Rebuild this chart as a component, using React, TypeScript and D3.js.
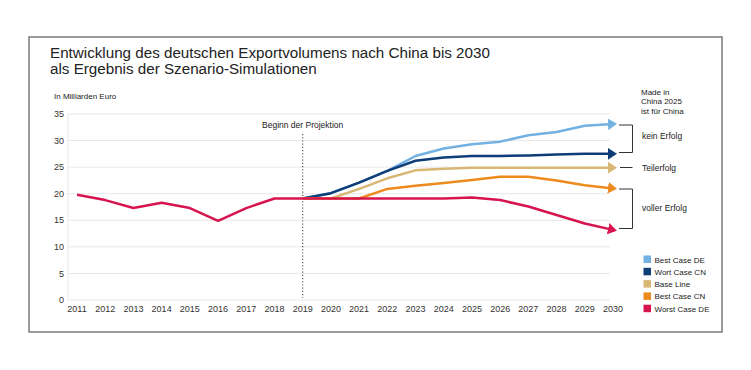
import React from "react";
import * as d3 from "d3";

const years = d3.range(2011, 2031);
const yTicks = [0, 5, 10, 15, 20, 25, 30, 35];

const historyYears = [2011, 2012, 2013, 2014, 2015, 2016, 2017, 2018, 2019];
const historyValues = [19.8, 18.8, 17.3, 18.3, 17.3, 14.9, 17.3, 19.1, 19.1];

const projYears = [2019, 2020, 2021, 2022, 2023, 2024, 2025, 2026, 2027, 2028, 2029, 2030];
const bestCaseDE = [19.1, 20.1, 22.1, 24.3, 27.1, 28.5, 29.3, 29.8, 31.0, 31.6, 32.8, 33.1];
const wortCaseCN = [19.1, 20.1, 22.1, 24.3, 26.2, 26.8, 27.1, 27.1, 27.2, 27.4, 27.5, 27.5];
const baseLine = [19.1, 19.1, 20.9, 22.9, 24.4, 24.7, 24.9, 24.9, 24.9, 24.9, 24.9, 24.9];
const bestCaseCN = [19.1, 19.1, 19.1, 20.9, 21.5, 22.0, 22.6, 23.2, 23.2, 22.5, 21.6, 21.0];
const worstCaseDE = [19.1, 19.1, 19.1, 19.1, 19.1, 19.1, 19.3, 18.8, 17.6, 16.0, 14.4, 13.2];

const seriesNames = ["Best Case DE", "Wort Case CN", "Base Line", "Best Case CN", "Worst Case DE"];
const seriesColors = ["#72b1e1", "#0f3d78", "#d8b775", "#ec8a1e", "#d7144f"];
const seriesValues = [bestCaseDE, wortCaseCN, baseLine, bestCaseCN, worstCaseDE];

const titleLines = [
  "Entwicklung des deutschen Exportvolumens nach China bis 2030",
  "als Ergebnis der Szenario-Simulationen",
];
const noteLines = ["Made in", "China 2025", "ist für China"];
const projectionYear = 2019;

const FONT = "'Liberation Sans', Arial, sans-serif";

export default function App() {
  const x = d3.scaleLinear().domain([2011, 2030]).range([77, 613]);
  const y = d3.scaleLinear().domain([0, 35]).range([300, 114]);
  const plotLeft = 68;
  const plotRight = 610;

  const line = d3
    .line<[number, number]>()
    .x((d) => x(d[0]))
    .y((d) => y(d[1]));

  const history: [number, number][] = historyYears.map((yr, i) => [yr, historyValues[i]]);

  return (
    <svg
      width={751}
      height={370}
      style={{ position: "absolute", left: 0, top: 0, background: "#fff" }}
      fontFamily={FONT}
    >
      <defs>
        {seriesColors.map((c, i) => (
          <marker
            key={i}
            id={`arrow${i}`}
            markerUnits="userSpaceOnUse"
            markerWidth={12}
            markerHeight={14}
            viewBox="0 -7 12 14"
            refX={5}
            refY={0}
            orient="auto"
          >
            <path d="M0,-5.8L9,0L0,5.8Z" fill={c} />
          </marker>
        ))}
      </defs>

      <rect x={29} y={37} width={693} height={295} fill="none" stroke="#7a7a7a" strokeWidth={1.5} />

      {titleLines.map((t, i) => (
        <text key={i} x={50} y={58 + i * 15.5} fontSize={15.2} fill="#222">
          {t}
        </text>
      ))}

      <text x={54} y={99} fontSize={8} fill="#222">
        In Milliarden Euro
      </text>

      {yTicks.map((t) => (
        <g key={t}>
          <line x1={plotLeft} x2={plotRight} y1={y(t)} y2={y(t)} stroke="#e8e8e8" strokeWidth={1} />
          <text x={64} y={y(t)} dy="0.35em" fontSize={9} textAnchor="end" fill="#333">
            {t}
          </text>
        </g>
      ))}
      <line x1={plotLeft} x2={plotLeft} y1={y(35)} y2={y(0)} stroke="#e8e8e8" strokeWidth={1} />

      {years.map((yr) => (
        <text key={yr} x={x(yr)} y={312} fontSize={9} textAnchor="middle" fill="#333">
          {yr}
        </text>
      ))}

      <line
        x1={x(projectionYear)}
        x2={x(projectionYear)}
        y1={134}
        y2={y(0) - 2}
        stroke="#555"
        strokeWidth={1.2}
        strokeDasharray="1.2 2"
      />
      <text x={x(projectionYear)} y={128} fontSize={8.5} textAnchor="middle" fill="#222">
        Beginn der Projektion
      </text>

      {seriesValues.map((vals, i) => (
        <path
          key={i}
          d={line(projYears.map((yr, j) => [yr, vals[j]] as [number, number])) || ""}
          fill="none"
          stroke={seriesColors[i]}
          strokeWidth={2.5}
          strokeLinejoin="round"
          markerEnd={`url(#arrow${i})`}
        />
      ))}
      <path d={line(history) || ""} fill="none" stroke={seriesColors[4]} strokeWidth={2.5} strokeLinejoin="round" />

      {noteLines.map((t, i) => (
        <text key={i} x={641} y={95 + i * 9.3} fontSize={8} fill="#222">
          {t}
        </text>
      ))}

      <path d="M619,125H632.5V152.5H619" fill="none" stroke="#333" strokeWidth={1} />
      <text x={642} y={139} fontSize={8.5} fill="#222">
        kein Erfolg
      </text>
      <line x1={620} x2={632.5} y1={167.5} y2={167.5} stroke="#333" strokeWidth={1} />
      <text x={642} y={170.5} fontSize={8.5} fill="#222">
        Teilerfolg
      </text>
      <path d="M619,189H632.5V228.5H619" fill="none" stroke="#333" strokeWidth={1} />
      <text x={642} y={211} fontSize={8.5} fill="#222">
        voller Erfolg
      </text>

      {seriesNames.map((n, i) => (
        <g key={n} transform={`translate(643.5,${255.5 + i * 12.3})`}>
          <rect width={7.5} height={7.5} fill={seriesColors[i]} />
          <text x={11} y={7} fontSize={8} fill="#222">
            {n}
          </text>
        </g>
      ))}
    </svg>
  );
}
